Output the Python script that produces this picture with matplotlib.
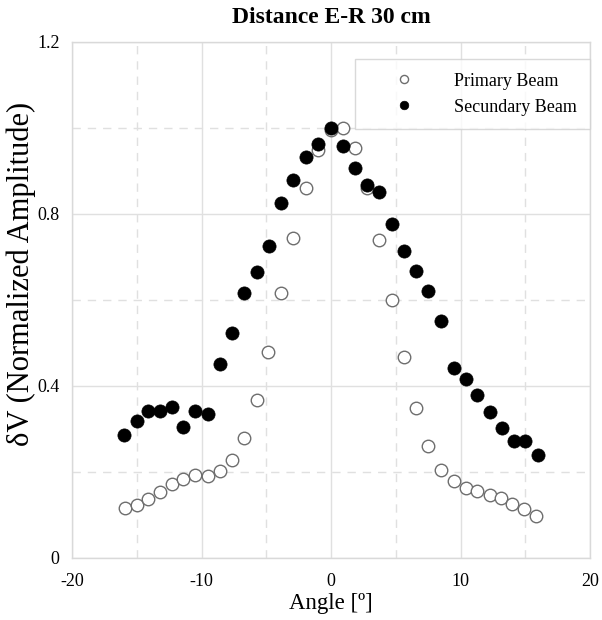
import matplotlib
matplotlib.use("Agg")
import matplotlib.pyplot as plt
from matplotlib.ticker import MultipleLocator

plt.rcParams['font.family'] = ['Liberation Serif', 'DejaVu Serif']

angles_secundary = [-15.97, -14.96, -14.1, -13.2, -12.25, -11.4, -10.47, -9.5, -8.6, -7.67,
                    -6.74, -5.74, -4.8, -3.88, -2.95, -1.94, -1.0, 0.0, 0.93, 1.86, 2.8,
                    3.72, 4.73, 5.66, 6.59, 7.52, 8.53, 9.46, 10.4, 11.3, 12.25, 13.2,
                    14.1, 15.0, 15.97]
secundary = [0.285, 0.319, 0.341, 0.343, 0.351, 0.305, 0.341, 0.336, 0.451, 0.523,
             0.616, 0.664, 0.725, 0.826, 0.879, 0.932, 0.962, 1.0, 0.958, 0.908, 0.868,
             0.851, 0.777, 0.713, 0.667, 0.621, 0.552, 0.442, 0.416, 0.379, 0.340, 0.302,
             0.273, 0.273, 0.239]

angles_primary = [-15.9, -15.0, -14.1, -13.2, -12.3, -11.4, -10.47, -9.5, -8.6, -7.67,
                  -6.74, -5.74, -4.86, -3.88, -2.94, -1.94, -1.0, 0.0, 0.93, 1.86, 2.8,
                  3.72, 4.73, 5.66, 6.59, 7.52, 8.53, 9.46, 10.4, 11.3, 12.25, 13.1,
                  14.0, 14.9, 15.8]
primary = [0.116, 0.123, 0.137, 0.153, 0.172, 0.184, 0.193, 0.19, 0.202, 0.228,
           0.279, 0.367, 0.479, 0.616, 0.744, 0.86, 0.949, 0.995, 1.0, 0.953, 0.86,
           0.74, 0.6, 0.467, 0.348, 0.26, 0.205, 0.18, 0.163, 0.156, 0.147, 0.139,
           0.125, 0.113, 0.098]

title = "Distance E-R 30 cm"
xlabel = "Angle [º]"
ylabel = "δV (Normalized Amplitude)"

fig = plt.figure(figsize=(6.02, 6.20), dpi=100)
ax = fig.add_axes([72/602, 1-558/620, (590-72)/602, (558-42)/620])

ax.plot(angles_primary, primary, linestyle='none', marker='o', markersize=9,
        markerfacecolor='white', markeredgecolor='#6e6e6e', markeredgewidth=1.0,
        label='Primary Beam', zorder=3)
ax.plot(angles_secundary, secundary, linestyle='none', marker='o', markersize=9.5,
        markerfacecolor='black', markeredgecolor='black', markeredgewidth=0.5,
        label='Secundary Beam', zorder=4)

ax.set_xlim(-20, 20)
ax.set_ylim(0, 1.2)
ax.xaxis.set_minor_locator(MultipleLocator(5))
ax.yaxis.set_minor_locator(MultipleLocator(0.2))
ax.set_xticks([-20, -10, 0, 10, 20])
ax.set_xticklabels(['-20', '-10', '0', '10', '20'])
ax.set_yticks([0, 0.4, 0.8, 1.2])
ax.set_yticklabels(['0', '0.4', '0.8', '1.2'])
ax.tick_params(which='both', length=0, labelsize=13, colors='black')
ax.tick_params(axis='x', pad=11)
ax.tick_params(axis='y', pad=9)

ax.grid(which='major', color='#e0e0e0', linewidth=1.0, linestyle='-')
ax.grid(which='minor', color='#e0e0e0', linewidth=1.0, linestyle=(0, (6, 5)))
ax.set_axisbelow(True)
for s in ax.spines.values():
    s.set_color('#d9d9d9')
    s.set_linewidth(1.0)

ax.set_title(title, fontsize=17, fontweight='bold', pad=14)
ax.set_xlabel(xlabel, fontsize=16.5, labelpad=2)
fig.text(21/602, 1 - 274/620, ylabel, rotation=90, ha='center', va='center',
         fontsize=22)

leg = ax.legend(loc='upper right', bbox_to_anchor=(1.0, 1 - 17/516), frameon=True,
                fancybox=False, fontsize=13, borderpad=0.75, handletextpad=0.8,
                labelspacing=0.5, handlelength=3.9, borderaxespad=0, markerscale=0.65)
leg.get_frame().set_edgecolor('#d0d0d0')
leg.get_frame().set_linewidth(1.0)

fig.savefig('out.png', dpi=100)
